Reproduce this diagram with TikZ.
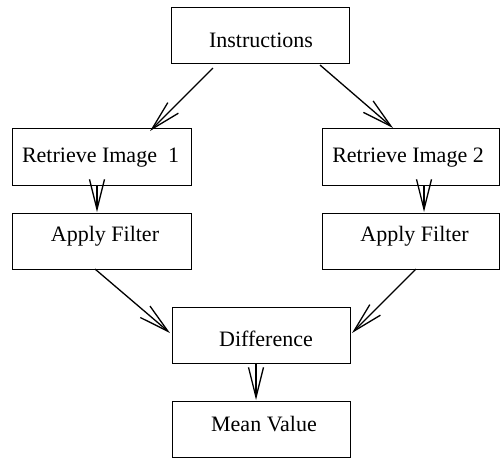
\documentclass[tikz,border=0pt]{standalone}
\usepackage{fontspec}
\setmainfont{Liberation Serif}
\usetikzlibrary{arrows.meta}
\begin{document}
\begin{tikzpicture}[x=1pt,y=-1pt,
  box/.style={draw,line width=1pt,inner sep=0pt},
  lbl/.style={inner sep=0pt,font=\fontsize{22}{26}\selectfont},
  arr/.style={line width=1.3pt,-{Straight Barb[length=30pt,width=15pt,line width=1.3pt]}}]
\useasboundingbox (0,0) rectangle (500,459);
% boxes
\draw[box] (171,7) rectangle (349,63);
\draw[box] (12,128) rectangle (191,185);
\draw[box] (322,128) rectangle (499,185);
\draw[box] (12,213) rectangle (191,269);
\draw[box] (322,213) rectangle (499,269);
\draw[box] (172,307) rectangle (350,363);
\draw[box] (172,401) rectangle (350,457);
% labels
\node[lbl] (ins) at (261,40) {Instructions};
\node[lbl] (r1) at (100.5,158) {Retrieve Image\ \ 1};
\node[lbl] (r2) at (408,158) {Retrieve Image 2};
\node[lbl] (f1) at (105,236) {Apply Filter};
\node[lbl] (f2) at (414.5,236) {Apply Filter};
\node[lbl] (dif) at (266,339) {Difference};
\node[lbl] (mv) at (264,424) {Mean Value};
% connector endpoints
\coordinate (a1s) at (213,68);  \coordinate (a1e) at (150,131);
\coordinate (a2s) at (320,65);  \coordinate (a2e) at (393,128);
\coordinate (a3s) at (97,185);  \coordinate (a3e) at (97,212);
\coordinate (a4s) at (424,185); \coordinate (a4e) at (424,212);
\coordinate (a5s) at (95,269);  \coordinate (a5e) at (170,333);
\coordinate (a6s) at (416,269); \coordinate (a6e) at (352,333);
\coordinate (a7s) at (256,363); \coordinate (a7e) at (256,400);
\draw[arr] (a1s) -- (a1e);
\draw[arr] (a2s) -- (a2e);
\draw[arr] (a3s) -- (a3e);
\draw[arr] (a4s) -- (a4e);
\draw[arr] (a5s) -- (a5e);
\draw[arr] (a6s) -- (a6e);
\draw[arr] (a7s) -- (a7e);
\end{tikzpicture}
\end{document}
